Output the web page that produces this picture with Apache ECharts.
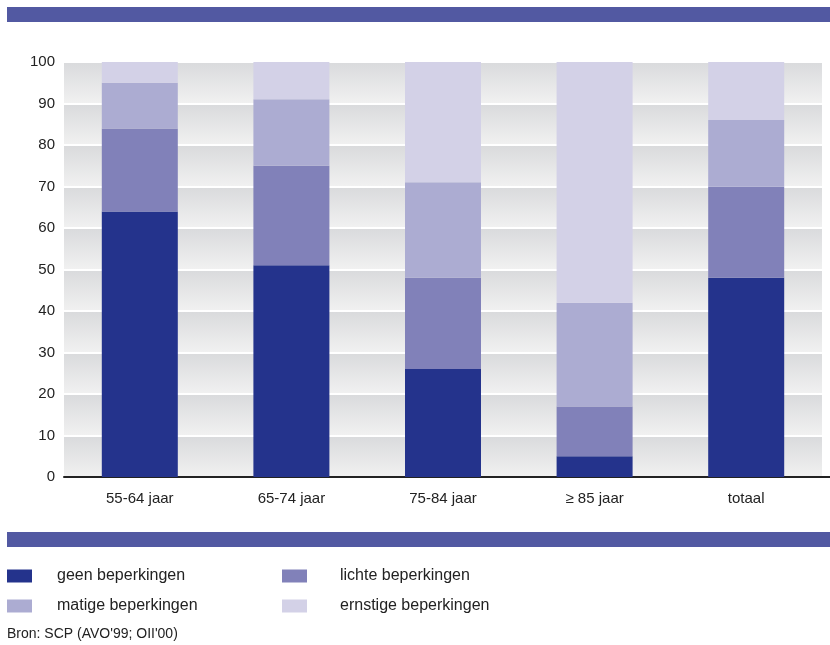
<!DOCTYPE html>
<html>
<head>
<meta charset="utf-8">
<script src="https://cdn.jsdelivr.net/npm/echarts@6/dist/echarts.min.js"></script>
<style>
  html, body { margin: 0; padding: 0; background: #ffffff; }
  #chart { width: 830px; height: 645px; }
</style>
</head>
<body>
<div id="chart"></div>
<script>
// Leeftijdsgroepen en aandelen (%) per mate van beperking
const categories = ['55-64 jaar', '65-74 jaar', '75-84 jaar', '\u2265 85 jaar', 'totaal'];
const geen     = [64, 51, 26, 5, 48];
const lichte   = [20, 24, 22, 12, 22];
const matige   = [11, 16, 23, 25, 16];
const ernstige = [5, 9, 29, 58, 14];
const seriesNames = ['geen beperkingen', 'lichte beperkingen', 'matige beperkingen', 'ernstige beperkingen'];
const yTicks = [0, 10, 20, 30, 40, 50, 60, 70, 80, 90, 100];

const colors = ['#24338c', '#8181b9', '#acacd2', '#d3d1e7'];
const FONT = '"Liberation Sans Narrow", "Liberation Sans", Arial, sans-serif';
const bandGradient = new echarts.graphic.LinearGradient(0, 0, 0, 1, [
  { offset: 0, color: '#d9dadc' },
  { offset: 1, color: '#f1f1f1' }
]);

const values = [geen, lichte, matige, ernstige];
const series = seriesNames.map((name, i) => ({
  name: name,
  type: 'bar',
  stack: 'totaal',
  barWidth: 76,
  itemStyle: { color: colors[i] },
  data: values[i]
}));

const legendCommon = {
  top: 568, orient: 'vertical', itemGap: 14, padding: 0,
  itemWidth: 25, itemHeight: 13, icon: 'rect', selectedMode: false
};

const chart = echarts.init(document.getElementById('chart'), null, { renderer: 'canvas' });
chart.setOption({
  animation: false,
  textStyle: { fontFamily: FONT },
  grid: { left: 64, right: 8, top: 62, bottom: 168 },
  xAxis: {
    type: 'category',
    data: categories,
    axisTick: { show: false },
    axisLine: { lineStyle: { color: '#222222', width: 2 } },
    axisLabel: { color: '#222222', fontSize: 15, margin: 14, fontFamily: FONT }
  },
  yAxis: {
    type: 'value',
    min: yTicks[0],
    max: yTicks[yTicks.length - 1],
    interval: 10,
    axisLine: { show: false },
    axisTick: { show: false },
    axisLabel: { color: '#222222', fontSize: 15, margin: 9, fontFamily: FONT },
    splitLine: { show: true, lineStyle: { color: '#ffffff', width: 2 } },
    splitArea: { show: true, areaStyle: { color: [bandGradient] } }
  },
  legend: [
    Object.assign({}, legendCommon, {
      left: 7,
      data: [seriesNames[0], seriesNames[2]],
      textStyle: { color: '#222222', fontSize: 16, fontFamily: FONT, padding: [0, 0, 0, 20] }
    }),
    Object.assign({}, legendCommon, {
      left: 282,
      data: [seriesNames[1], seriesNames[3]],
      textStyle: { color: '#222222', fontSize: 16, fontFamily: FONT, padding: [0, 0, 0, 28] }
    })
  ],
  graphic: [
    { type: 'rect', left: 7, top: 7, shape: { width: 823, height: 15 }, style: { fill: '#5259a2' } },
    { type: 'rect', left: 7, top: 532, shape: { width: 823, height: 15 }, style: { fill: '#5259a2' } },
    { type: 'line', shape: { x1: 822, y1: 477, x2: 830, y2: 477 }, style: { stroke: '#222222', lineWidth: 2 } },
    { type: 'text', left: 7, top: 627, style: { text: "Bron: SCP (AVO'99; OII'00)", fill: '#222222', fontSize: 14, fontFamily: FONT } }
  ],
  series: series
});
</script>
</body>
</html>
